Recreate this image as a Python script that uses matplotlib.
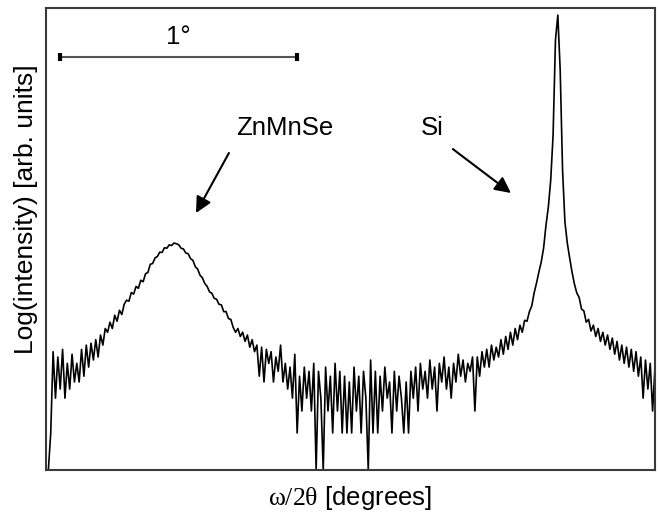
import numpy as np
import matplotlib.pyplot as plt

plt.rcParams["font.family"] = "Liberation Sans"
plt.rcParams["mathtext.fontset"] = "custom"
plt.rcParams["mathtext.rm"] = "Liberation Serif"
plt.rcParams["mathtext.it"] = "Liberation Serif:italic"

# omega/2theta scan, counts per step
omega_start = 32.41
omega_step = 0.01
counts = [
    0, 1, 13, 3, 11, 4, 14, 3, 9, 4,
    12, 5, 9, 5, 14, 6, 16, 8, 17, 10,
    19, 11, 22, 16, 27, 24, 33, 27, 41, 34,
    48, 42, 58, 66, 64, 84, 80, 102, 96, 124,
    118, 152, 158, 205, 210, 250, 262, 300, 298, 345,
    340, 378, 370, 400, 392, 380, 340, 332, 292, 286,
    245, 232, 190, 176, 145, 134, 112, 102, 86, 82,
    70, 68, 58, 57, 46, 46, 37, 36, 28, 24,
    27, 21, 24, 18, 22, 15, 19, 13, 16, 6,
    15, 5, 14, 9, 13, 5, 11, 7, 16, 5,
    9, 4, 8, 3, 12, 1, 6, 2, 8, 3,
    7, 2, 9, 0, 7, 3, 0, 8, 2, 6,
    1, 9, 2, 7, 1, 6, 1, 5, 1, 8,
    2, 6, 1, 7, 3, 0, 10, 1, 7, 1,
    6, 2, 8, 3, 5, 1, 7, 2, 6, 3,
    1, 5, 1, 7, 3, 8, 2, 9, 4, 7,
    3, 10, 4, 8, 2, 9, 5, 11, 4, 8,
    3, 9, 5, 12, 6, 10, 5, 9, 7, 11,
    2, 11, 6, 13, 8, 14, 8, 16, 10, 15,
    11, 19, 12, 21, 14, 24, 16, 27, 19, 30,
    24, 35, 34, 46, 55, 83, 113, 160, 220, 342,
    700, 1250, 2900, 12000, 240000, 532000, 94000, 4000, 777, 400,
    250, 160, 110, 83, 72, 50, 47, 33, 36, 25,
    30, 21, 27, 18, 24, 16, 22, 14, 20, 12,
    18, 10, 16, 9, 15, 8, 14, 7, 13, 6,
    11, 3, 10, 4, 9, 2, 8,
]

# peak labels: (text, text position, arrow start, arrow tip)
peak_labels = ["ZnMnSe", "Si"]
label_pos = [(33.408, 4.178), (34.029, 4.178)]
arrow_from = [(33.172, 3.836), (34.117, 3.890)]
arrow_to = [(33.033, 3.014), (34.362, 3.288)]

# 1 degree scale bar
bar_start = 32.459
bar_len = 1.0
bar_y = 5.155

y_floor = -0.507
y_top = 5.822

c = np.array(counts, dtype=float)
omega = omega_start + omega_step * np.arange(len(c))
log_i = np.where(c > 0, np.log10(np.maximum(c, 1)), y_floor)

fig = plt.figure(figsize=(6.58, 5.12), dpi=100)
ax = fig.add_axes([0.0699, 0.082, 0.9255, 0.9023])

ax.plot(omega, log_i, color="black", lw=1.2)

ax.set_xlim(32.40, 34.97)
ax.set_ylim(y_floor, y_top)
ax.set_xticks([])
ax.set_yticks([])
for s in ax.spines.values():
    s.set_color("#3a3a3a")
    s.set_linewidth(1.5)

# scale bar
ax.plot([bar_start, bar_start + bar_len], [bar_y, bar_y], color="#555555", lw=1.5,
        marker="|", ms=6, mew=3, mec="black")
ax.text(bar_start + bar_len / 2, bar_y + 0.11, "1°", ha="center", va="bottom", fontsize=18.5)

# peak labels
for name, pos, a0, a1 in zip(peak_labels, label_pos, arrow_from, arrow_to):
    ax.text(pos[0], pos[1], name, ha="center", va="center", fontsize=18.5)
    ax.annotate("", xy=a1, xytext=a0,
                arrowprops=dict(arrowstyle="-|>", lw=1.5, color="black",
                                mutation_scale=24, shrinkA=0, shrinkB=0))

ax.set_xlabel(r"$\mathrm{\omega/2\theta}$ [degrees]", fontsize=18.5, labelpad=10)
ax.set_ylabel("Log(intensity) [arb. units]", fontsize=19)
ax.yaxis.set_label_coords(-0.013, 0.565)

fig.savefig("out.png", dpi=100)
